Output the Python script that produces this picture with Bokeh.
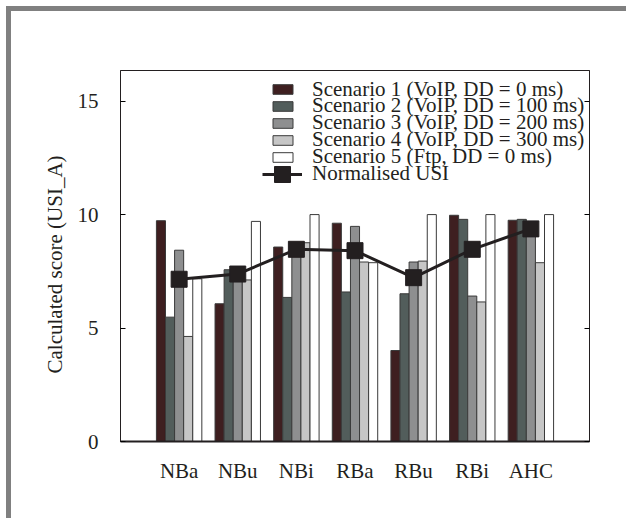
from bokeh.plotting import figure
from bokeh.models import Range1d, FixedTicker, LinearAxis, ColumnDataSource, Title, Legend, LegendItem
from bokeh.embed import file_html
from bokeh.resources import INLINE

categories = ["NBa", "NBu", "NBi", "RBa", "RBu", "RBi", "AHC"]
series_names = [
    "Scenario 1 (VoIP, DD = 0 ms)",
    "Scenario 2 (VoIP, DD = 100 ms)",
    "Scenario 3 (VoIP, DD = 200 ms)",
    "Scenario 4 (VoIP, DD = 300 ms)",
    "Scenario 5 (Ftp, DD = 0 ms)",
]
s1 = [9.73, 6.07, 8.57, 9.62, 4.01, 9.97, 9.75]
s2 = [5.48, 7.57, 6.35, 6.59, 6.51, 9.79, 9.79]
s3 = [8.43, 7.30, 8.45, 9.48, 7.91, 6.41, 9.60]
s4 = [4.63, 7.12, 8.76, 7.91, 7.95, 6.15, 7.88]
s5 = [7.17, 9.70, 10.0, 7.88, 10.0, 10.0, 10.0]
usi = [7.15, 7.38, 8.47, 8.41, 7.22, 8.47, 9.37]
usi_name = "Normalised USI"
y_label = "Calculated score (USI_A)"
y_ticks = [0, 5, 10, 15]

colors = ["#3e1f20", "#525d5b", "#8e8f90", "#c6c6c6", "#ffffff"]
FONT = "Liberation Serif"

p = figure(width=620, height=512, output_backend="svg", toolbar_location=None,
           x_range=Range1d(0, 8), y_range=Range1d(0, 16.35),
           min_border_left=109, min_border_right=42, min_border_top=59, min_border_bottom=82,
           styles={"border-top": "5px solid #808080", "border-left": "5px solid #808080",
                   "margin-left": "6px", "margin-top": "6px"})
p.grid.visible = False
p.outline_line_color = "#231f20"
p.outline_line_width = 1

xs = list(range(1, len(categories) + 1))
bw = 0.155
legend_entries = []
for j, (vals, name) in enumerate(zip([s1, s2, s3, s4, s5], series_names)):
    src = ColumnDataSource(dict(x=[x + (j - 2) * bw for x in xs], top=vals))
    r = p.vbar(x="x", top="top", width=bw, bottom=0, source=src, fill_color=colors[j],
               line_color="#3a3a3a", line_width=1)
    legend_entries.append((name, [r]))

usrc = ColumnDataSource(dict(x=xs, y=usi))
rl = p.line("x", "y", source=usrc, line_color="#231f20", line_width=3)
rs = p.scatter("x", "y", source=usrc, marker="square", size=16, fill_color="#231f20",
               line_color="#231f20")
legend_entries.append((usi_name, [rl, rs]))


def style_legend(lg, gw, gh, standoff):
    lg.border_line_color = None
    lg.background_fill_alpha = 0
    lg.label_text_font = FONT
    lg.label_text_font_size = "21px"
    lg.label_text_color = "#231f20"
    lg.glyph_width = gw
    lg.glyph_height = gh
    lg.label_height = 26
    lg.spacing = 0
    lg.padding = 0
    lg.margin = 0
    lg.label_standoff = standoff


# one single-item legend per row, so the rows can sit as tightly as in the original
ROW = 16.9
for i, (name, rends) in enumerate(legend_entries):
    item = LegendItem(label=name, renderers=rends)
    if name == usi_name:
        lg = Legend(items=[item], location=(142, 441 - (89 + ROW * i + 20)))
        style_legend(lg, 40, 40, 10)
    else:
        lg = Legend(items=[item], location=(150, 441 - (89 + ROW * i + 13)))
        style_legend(lg, 25, 12, 17)
    p.add_layout(lg)

# axes
p.xaxis.ticker = FixedTicker(ticks=xs)
p.xaxis.major_label_overrides = {x: c for x, c in zip(xs, categories)}
p.xaxis.major_tick_out = 0
p.xaxis.major_tick_in = 0
p.xaxis.minor_tick_line_color = None
p.xaxis.axis_line_width = 2
p.xaxis.axis_line_color = "#231f20"
p.xaxis.major_label_standoff = 17
p.xaxis.major_label_text_font = FONT
p.xaxis.major_label_text_font_size = "21px"
p.xaxis.major_label_text_color = "#231f20"

p.yaxis.ticker = FixedTicker(ticks=y_ticks)
p.yaxis.major_tick_in = 5
p.yaxis.major_tick_out = 0
p.yaxis.minor_tick_line_color = None
p.yaxis.axis_line_color = "#231f20"
p.yaxis.major_label_standoff = 22
p.yaxis.major_label_text_font = FONT
p.yaxis.major_label_text_font_size = "21px"
p.yaxis.major_label_text_color = "#231f20"

ytitle = Title(text=y_label, align="left", offset=68, standoff=16,
               text_font=FONT, text_font_size="21px", text_font_style="normal",
               text_color="#231f20")
p.add_layout(ytitle, "left")

ra = LinearAxis(ticker=FixedTicker(ticks=y_ticks))
ra.major_tick_in = 5
ra.major_tick_out = 0
ra.minor_tick_line_color = None
ra.axis_line_color = "#231f20"
ra.major_label_text_alpha = 0
p.add_layout(ra, "right")

open("out.html", "w").write(file_html(p, INLINE))
